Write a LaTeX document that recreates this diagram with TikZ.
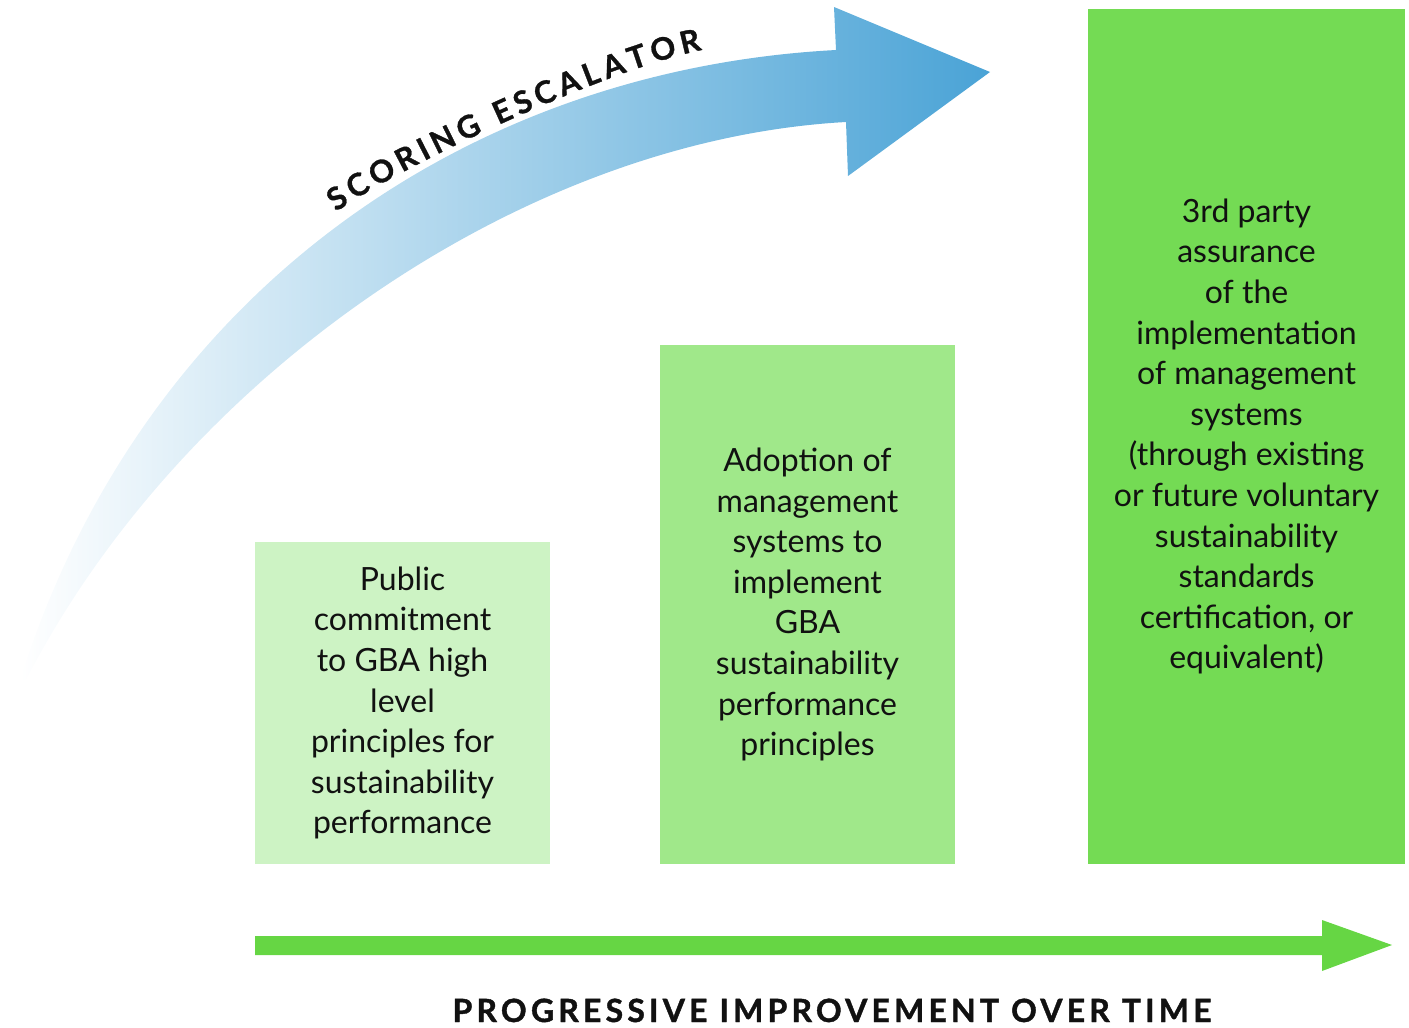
\documentclass[tikz,border=0pt]{standalone}
\usepackage{fontspec}
\setmainfont{Lato}
\newfontfamily\spacedfont[LetterSpace=13, BoldFeatures={FakeBold=1.2}]{Lato}
\newfontfamily\arcfont[BoldFeatures={FakeBold=1}]{Lato}
\usetikzlibrary{decorations.text}
\definecolor{boxA}{HTML}{CDF3C4}
\definecolor{boxB}{HTML}{A0E88A}
\definecolor{boxC}{HTML}{74DB54}
\definecolor{arrowG}{HTML}{66D644}
\definecolor{escBlue}{HTML}{4AA3D6}
\definecolor{txt}{HTML}{111111}
\begin{document}
\begin{tikzpicture}[x=1pt,y=-1pt,
  box/.style={inner sep=0pt, align=center, text=txt, font=\fontsize{32}{40.6}\selectfont},
]
\useasboundingbox (0,0) rectangle (1409,1028);
% blue curved arrow
\coordinate (tail) at (20,680);
\coordinate (tip) at (990,72);
\shade[left color=white, right color=escBlue]
  (tail) .. controls (140,300) and (460,70) .. (836,50) -- (834,7) -- (tip)
  -- (848,176) -- (846,122) .. controls (520,140) and (180,380) .. (26,680) -- cycle;
\path[decorate, decoration={text along path,
  text={|\fontsize{31}{31}\arcfont\bfseries\color{txt}|SCORING ESCALATOR},
  text align={fit to path}}]
  (336,212) .. controls (401,166) and (604,70) .. (702,50);
% boxes
\node[box, fill=boxA, minimum width=295pt, minimum height=322pt] (b1) at (402.5,703)
  {Public\\commitment\\to GBA high\\level\\principles for\\sustainability\\performance};
\node[box, fill=boxB, minimum width=295pt, minimum height=519pt] (b2) at (807.5,604.5)
  {Adoption of\\management\\systems to\\implement\\GBA\\sustainability\\performance\\principles};
\node[box, fill=boxC, minimum width=317pt, minimum height=855pt] (b3) at (1246.5,436.5)
  {3rd party\\assurance\\of the\\implementation\\of management\\systems\\(through existing\\or future voluntary\\sustainability\\standards\\certification, or\\equivalent)};
% bottom arrow
\coordinate (ps) at (255,945.5);
\coordinate (pe) at (1392,945);
\fill[arrowG] (255,936) -- (1322,936) -- (1322,920) -- (pe) -- (1322,971) -- (1322,955) -- (255,955) -- cycle;
\node[font=\fontsize{32}{32}\spacedfont\bfseries, text=txt, anchor=base, inner sep=0pt] (lbl) at (832,1022)
  {PROGRESSIVE IMPROVEMENT OVER TIME};
\end{tikzpicture}
\end{document}
